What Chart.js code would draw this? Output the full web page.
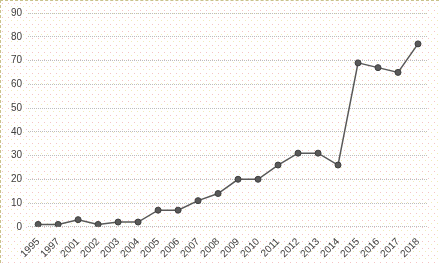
<!DOCTYPE html>
<html>
<head>
<meta charset="utf-8">
<script src="https://cdn.jsdelivr.net/npm/chart.js@4/dist/chart.umd.min.js"></script>
<style>
  html, body { margin: 0; padding: 0; background: #ffffff; }
  body { width: 439px; height: 263px; overflow: hidden; }
  #wrap {
    position: absolute; left: 0; top: 0; width: 438px; height: 262px;
    border-left: 1px dashed #c9c28c; border-top: 1px dashed #c9c28c;
  }
  #dots, #chart { position: absolute; left: 0; top: 0; }
</style>
</head>
<body>
<div id="wrap"><canvas id="dots" width="439" height="263"></canvas><canvas id="chart" width="438" height="262"></canvas></div>
<script>
// years on the x axis and the count for each one
var years = ["1995", "1997", "2001", "2002", "2003", "2004", "2005", "2006", "2007", "2008",
             "2009", "2010", "2011", "2012", "2013", "2014", "2015", "2016", "2017", "2018"];
var counts = [1, 1, 3, 1, 2, 2, 7, 7, 11, 14, 20, 20, 26, 31, 31, 26, 69, 67, 65, 77];
var yMin = 0, yMax = 90, yStep = 10;

// dotted paper background behind the chart
var dc = document.getElementById("dots").getContext("2d");
for (var y = 2; y < 263; y += 7) {
  for (var x = 1; x < 439; x += 6) {
    dc.fillStyle = "#f5c4c4";
    dc.fillRect(x, y, 1, 1);
    dc.fillStyle = "#f1ebb8";
    dc.fillRect(x + 3, y + 3, 1, 1);
  }
}

var chart = new Chart(document.getElementById("chart"), {
  type: "line",
  data: {
    labels: years,
    datasets: [{
      data: counts,
      borderColor: "#595959",
      borderWidth: 1.5,
      backgroundColor: "#595959",
      pointBackgroundColor: "#5a5a5a",
      pointBorderColor: "#3f3f3f",
      pointBorderWidth: 1,
      pointRadius: 3,
      tension: 0,
      fill: false
    }]
  },
  options: {
    responsive: false,
    animation: false,
    layout: { padding: { left: 4, right: 11, top: 3, bottom: 2 } },
    plugins: { legend: { display: false }, tooltip: { enabled: false } },
    scales: {
      x: {
        offset: true,
        grid: { display: false },
        border: { display: false },
        ticks: {
          autoSkip: false,
          minRotation: 45, maxRotation: 45,
          color: "#404040",
          font: { family: "'Liberation Sans', sans-serif", size: 10 },
          padding: 1
        }
      },
      y: {
        min: yMin, max: yMax,
        grid: { color: "#bdbdbd", lineWidth: 1, drawTicks: false },
        border: { display: false, dash: [1, 1] },
        ticks: {
          stepSize: yStep,
          color: "#404040",
          font: { family: "'Liberation Sans', sans-serif", size: 10 },
          padding: 6
        }
      }
    }
  }
});
</script>
</body>
</html>
